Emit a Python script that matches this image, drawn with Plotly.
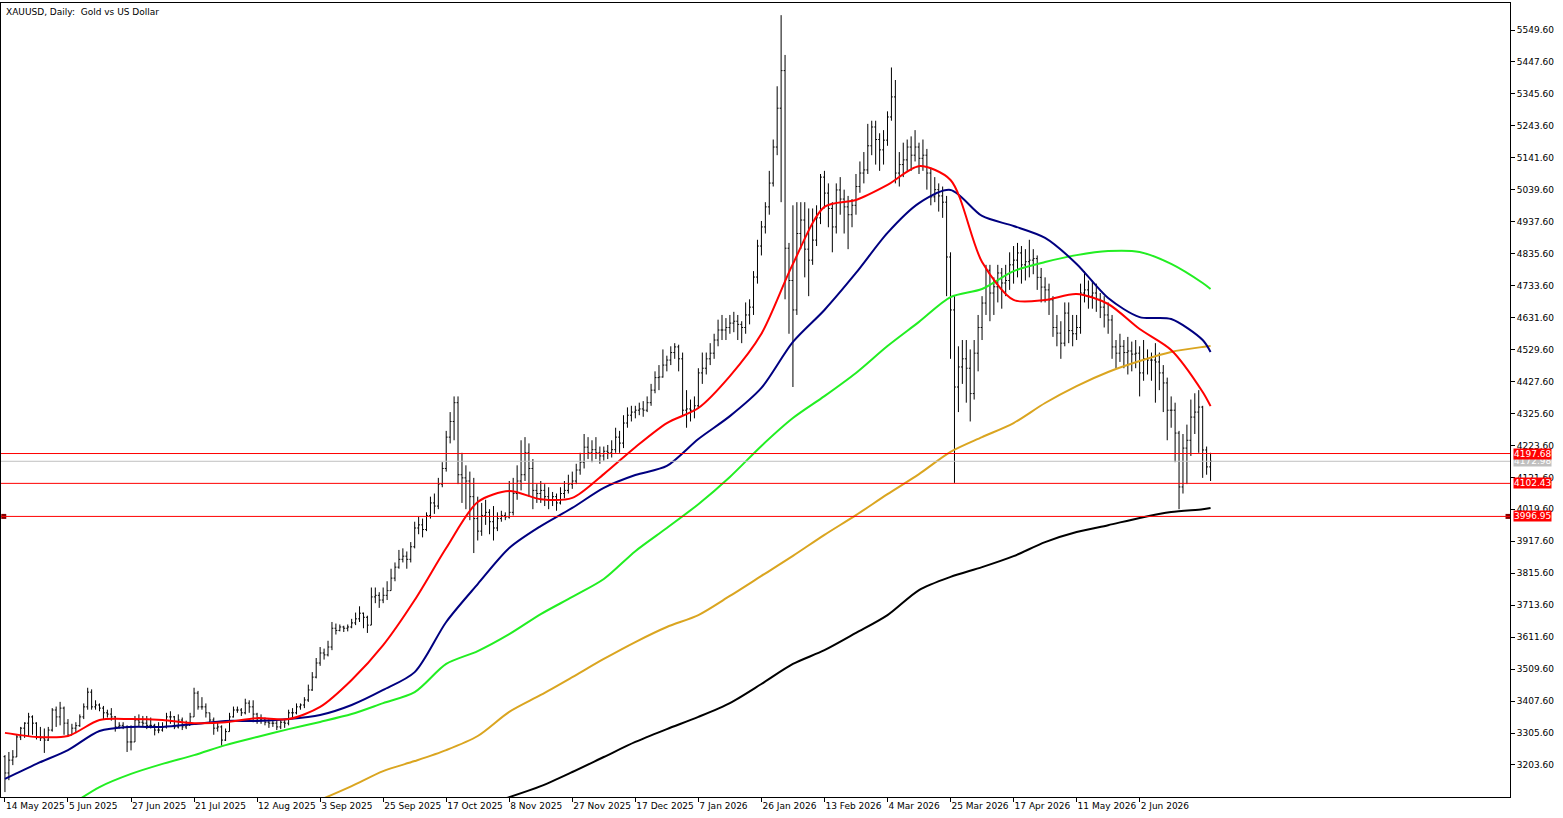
import numpy as np
import pandas as pd
import plotly.graph_objects as go

# daily closes, 14 May 2025 .. late Jun 2026
closes = [
    3178, 3219, 3229, 3293, 3321, 3337, 3357, 3337, 3293, 3290, 3283, 3315, 3379, 3357, 3385, 3337,
    3299, 3321, 3329, 3357, 3389, 3436, 3389, 3395, 3385, 3370, 3366, 3357, 3325, 3330, 3325, 3277,
    3277, 3347, 3340, 3337, 3330, 3330, 3315, 3315, 3325, 3357, 3357, 3325, 3347, 3325, 3330, 3357,
    3433, 3389, 3389, 3370, 3347, 3321, 3325, 3283, 3310, 3357, 3379, 3379, 3370, 3401, 3389, 3366,
    3347, 3347, 3340, 3337, 3337, 3325, 3340, 3337, 3370, 3370, 3389, 3395, 3411, 3443, 3484, 3529,
    3561, 3555, 3580, 3640, 3633, 3644, 3640, 3644, 3657, 3670, 3688, 3675, 3650, 3740, 3745, 3730,
    3745, 3760, 3800, 3835, 3860, 3870, 3860, 3900, 3960, 3970, 3955, 4000, 4040, 4030, 4100, 4150,
    4250, 4300, 4360, 4130, 4120, 4110, 4060, 3990, 3950, 4000, 4010, 3980, 3960, 3990, 4000, 3995,
    4010, 4070, 4110, 4130, 4200, 4150, 4080, 4070, 4080, 4060, 4050, 4060, 4040, 4070, 4080, 4100,
    4110, 4145, 4170, 4218, 4200, 4210, 4200, 4190, 4205, 4200, 4210, 4250, 4231, 4295, 4320, 4330,
    4336, 4340, 4336, 4360, 4400, 4440, 4442, 4480, 4496, 4520, 4538, 4500, 4336, 4340, 4336, 4350,
    4455, 4470, 4500, 4518, 4560, 4592, 4592, 4600, 4614, 4620, 4610, 4600, 4640, 4665, 4761, 4860,
    4921, 4985, 5061, 5176, 5300, 5420, 4853, 4750, 4656, 4900, 4943, 4850, 4815, 4879, 4950, 5080,
    5029, 4980, 4921, 5039, 5010, 4985, 4960, 4990, 5050, 5093, 5103, 5180, 5240, 5200, 5167, 5198,
    5272, 5336, 5093, 5120, 5135, 5176, 5150, 5176, 5140, 5150, 5093, 5017, 5040, 5020, 5000, 4825,
    4656, 4410, 4474, 4500, 4470, 4389, 4518, 4600, 4678, 4783, 4710, 4730, 4774, 4742, 4750, 4800,
    4815, 4838, 4800, 4810, 4815, 4820, 4760, 4729, 4720, 4688, 4600, 4582, 4550, 4646, 4590, 4580,
    4600, 4710, 4720, 4700, 4710, 4690, 4665, 4640, 4624, 4538, 4518, 4540, 4520, 4525, 4515, 4518,
    4455, 4500, 4496, 4496, 4490, 4455, 4423, 4336, 4336, 4263, 4091, 4215, 4240, 4314, 4330, 4346,
    4209, 4155, 4173,
]
highs = [
    3235, 3245, 3251, 3300, 3325, 3340, 3370, 3362, 3340, 3325, 3320, 3325, 3385, 3390, 3405, 3390,
    3350, 3335, 3340, 3365, 3400, 3450, 3445, 3410, 3400, 3392, 3380, 3385, 3360, 3340, 3340, 3330,
    3330, 3360, 3365, 3360, 3360, 3355, 3335, 3340, 3340, 3370, 3375, 3360, 3365, 3355, 3345, 3370,
    3450, 3440, 3420, 3400, 3370, 3355, 3340, 3330, 3320, 3370, 3390, 3390, 3385, 3415, 3410, 3410,
    3370, 3365, 3355, 3350, 3345, 3345, 3350, 3350, 3380, 3385, 3400, 3400, 3420, 3460, 3500, 3545,
    3580, 3575, 3600, 3660, 3655, 3652, 3648, 3652, 3670, 3690, 3710, 3690, 3680, 3770, 3770, 3755,
    3770, 3790, 3830, 3850, 3890, 3895, 3885, 3915, 3980, 3995, 3990, 4010, 4060, 4070, 4120, 4170,
    4270, 4330, 4380, 4380, 4200, 4160, 4140, 4120, 4060, 4040, 4050, 4020, 4030, 4010, 4015, 4010,
    4110, 4120, 4160, 4240, 4250, 4230, 4180, 4100, 4110, 4100, 4090, 4075, 4070, 4090, 4110, 4130,
    4140, 4165, 4200, 4260, 4250, 4240, 4250, 4220, 4220, 4225, 4240, 4280, 4270, 4320, 4345, 4350,
    4350, 4360, 4365, 4380, 4420, 4460, 4480, 4530, 4510, 4540, 4550, 4545, 4520, 4400, 4370, 4380,
    4470, 4520, 4520, 4550, 4580, 4625, 4640, 4630, 4640, 4650, 4640, 4620, 4680, 4690, 4780, 4880,
    4940, 5000, 5100, 5200, 5370, 5597, 5470, 4870, 4990, 5000, 5000, 5000, 4980, 4980, 4990, 5090,
    5100, 5060, 5000, 5060, 5080, 5040, 5020, 5010, 5090, 5130, 5160, 5250, 5260, 5260, 5220, 5230,
    5290, 5430, 5390, 5160, 5190, 5200, 5210, 5230, 5190, 5200, 5170, 5110, 5080, 5060, 5050, 5020,
    4840, 4700, 4540, 4560, 4560, 4530, 4560, 4640, 4700, 4800, 4800, 4760, 4800, 4790, 4800, 4840,
    4860, 4870, 4860, 4850, 4880, 4850, 4830, 4790, 4760, 4740, 4700, 4640, 4620, 4680, 4680, 4640,
    4640, 4740, 4780, 4750, 4750, 4740, 4710, 4700, 4680, 4640, 4560, 4580, 4560, 4570, 4555, 4560,
    4540, 4560, 4530, 4520, 4550, 4520, 4480, 4440, 4380, 4360, 4270, 4260, 4290, 4370, 4390, 4400,
    4350, 4220, 4200,
]
lows = [
    3117, 3155, 3203, 3229, 3283, 3290, 3295, 3300, 3285, 3280, 3242, 3280, 3310, 3325, 3330, 3300,
    3295, 3300, 3305, 3325, 3350, 3380, 3380, 3380, 3375, 3350, 3355, 3345, 3310, 3320, 3318, 3245,
    3250, 3280, 3325, 3325, 3318, 3320, 3298, 3305, 3310, 3320, 3335, 3318, 3320, 3315, 3318, 3330,
    3360, 3380, 3380, 3355, 3335, 3300, 3310, 3265, 3280, 3310, 3355, 3370, 3360, 3365, 3370, 3340,
    3335, 3335, 3330, 3322, 3325, 3315, 3318, 3322, 3330, 3355, 3365, 3380, 3385, 3405, 3440, 3480,
    3520, 3540, 3550, 3570, 3620, 3630, 3628, 3630, 3640, 3650, 3660, 3640, 3625, 3650, 3720, 3705,
    3720, 3730, 3760, 3790, 3830, 3850, 3830, 3850, 3895, 3940, 3930, 3950, 3990, 4005, 4020, 4090,
    4140, 4230, 4240, 4100, 4040, 4020, 3985, 3880, 3920, 3935, 3970, 3940, 3920, 3950, 3980, 3985,
    3990, 4000, 4050, 4080, 4110, 4060, 4020, 4040, 4040, 4030, 4020, 4030, 4015, 4035, 4055, 4070,
    4085, 4100, 4130, 4150, 4180, 4170, 4180, 4165, 4175, 4180, 4185, 4200, 4200, 4215, 4280, 4300,
    4310, 4320, 4315, 4330, 4350, 4390, 4400, 4440, 4460, 4480, 4500, 4460, 4320, 4280, 4300, 4310,
    4340, 4420, 4450, 4480, 4500, 4540, 4560, 4560, 4580, 4585, 4560, 4550, 4580, 4610, 4640, 4740,
    4830, 4900, 4960, 5050, 5150, 5000, 4690, 4580, 4410, 4640, 4850, 4760, 4700, 4800, 4860, 4930,
    4980, 4920, 4840, 4900, 4960, 4900, 4850, 4920, 4960, 5030, 5060, 5090, 5150, 5120, 5100, 5120,
    5180, 5260, 5060, 5050, 5080, 5100, 5100, 5130, 5090, 5100, 5040, 4990, 5000, 4970, 4950, 4700,
    4500, 4104, 4330, 4420, 4360, 4300, 4370, 4460, 4560, 4640, 4620, 4640, 4680, 4660, 4700, 4720,
    4740, 4760, 4740, 4750, 4760, 4770, 4720, 4680, 4680, 4640, 4570, 4540, 4500, 4540, 4550, 4540,
    4560, 4580, 4680, 4660, 4660, 4650, 4630, 4600, 4580, 4500, 4470, 4490, 4470, 4450, 4460, 4470,
    4380, 4430, 4450, 4430, 4360, 4400, 4330, 4240, 4280, 4170, 4020, 4070, 4100, 4190, 4260, 4200,
    4120, 4130, 4110,
]
first_open = 3230

# moving averages, sampled every 8 bars (last point = last bar)
ma_fast = [3306, 3293, 3296, 3347, 3350, 3347, 3337, 3340, 3353, 3350, 3389, 3475, 3586, 3730,
           3896, 4043, 4078, 4052, 4056, 4132, 4218, 4295, 4343, 4445, 4580, 4803, 4985, 5007,
           5055, 5115, 5071, 4809, 4688, 4688, 4707, 4675, 4595, 4528, 4394, 4349]
ma_mid = [3159, 3207, 3251, 3312, 3325, 3325, 3334, 3344, 3344, 3350, 3363, 3395, 3443, 3500,
          3660, 3781, 3896, 3966, 4024, 4088, 4129, 4158, 4244, 4317, 4407, 4554, 4656, 4774,
          4902, 4997, 5039, 4956, 4924, 4886, 4803, 4694, 4633, 4627, 4560, 4522]
ma_slow = [None, None, 3070, 3133, 3175, 3207, 3235, 3267, 3293, 3318, 3341, 3366, 3401, 3436,
           3526, 3567, 3621, 3685, 3740, 3797, 3886, 3960, 4036, 4123, 4222, 4311, 4381, 4455,
           4541, 4618, 4697, 4723, 4780, 4809, 4831, 4844, 4841, 4803, 4742, 4723]
ma_long = [None] * 10 + [3092, 3136, 3184, 3216, 3251, 3296, 3373, 3427, 3484, 3542, 3596, 3644,
                         3682, 3743, 3807, 3871, 3938, 4001, 4068, 4132, 4203, 4250, 4295, 4359,
                         4413, 4458, 4493, 4522, 4538, 4541]
ma_base = [None] * 15 + [3070, 3101, 3136, 3181, 3229, 3277, 3318, 3357, 3401, 3462, 3526, 3570,
                         3625, 3682, 3762, 3804, 3835, 3870, 3915, 3947, 3969, 3992, 4011, 4020,
                         4024]

date_labels = ["14 May 2025", "5 Jun 2025", "27 Jun 2025", "21 Jul 2025", "12 Aug 2025",
               "3 Sep 2025", "25 Sep 2025", "17 Oct 2025", "8 Nov 2025", "27 Nov 2025",
               "17 Dec 2025", "7 Jan 2026", "26 Jan 2026", "13 Feb 2026", "4 Mar 2026",
               "25 Mar 2026", "17 Apr 2026", "11 May 2026", "2 Jun 2026"]
price_ticks = [3203.60 + 102 * k for k in range(24)]

levels_red = [4197.68, 4102.43, 3996.95]
level_bid = 4172.98

df = pd.DataFrame({"close": closes, "high": highs, "low": lows})
df["open"] = df["close"].shift(1).fillna(first_open)
df["high"] = np.maximum(df["high"], df[["open", "close"]].max(axis=1))
df["low"] = np.minimum(df["low"], df[["open", "close"]].min(axis=1))
x = np.arange(len(df))
ma_x = list(range(0, len(df) - 2, 8)) + [len(df) - 1]

fig = go.Figure()
fig.add_trace(go.Ohlc(
    x=x, open=df["open"], high=df["high"], low=df["low"], close=df["close"],
    increasing_line_color="black", decreasing_line_color="black",
    line_width=1, tickwidth=0.35, showlegend=False,
))
for vals, color in ((ma_base, "black"), (ma_long, "#DAA520"), (ma_slow, "#22EE22"),
                    (ma_mid, "#000080"), (ma_fast, "#FF0000")):
    fig.add_trace(go.Scatter(x=ma_x, y=vals, mode="lines", showlegend=False,
                             line={"color": color, "width": 2, "shape": "spline", "smoothing": 0.8}))

for lv in levels_red:
    fig.add_hline(y=lv, line_color="red", line_width=1)
fig.add_hline(y=level_bid, line_color="#C0C0C0", line_width=1)

for lv, bg in ((level_bid, "#C0C0C0"), (levels_red[0], "red"),
               (levels_red[1], "red"), (levels_red[2], "red")):
    fig.add_annotation(x=1.0, xref="paper", y=lv, yref="y", xanchor="left", xshift=3,
                       text=f"{lv:.2f}", showarrow=False, bgcolor=bg, borderpad=0,
                       font={"color": "white", "size": 9, "family": "DejaVu Sans"})
fig.add_trace(go.Scatter(x=[-0.3, 381.5], y=[levels_red[2]] * 2, mode="markers",
                         marker={"symbol": "square", "size": 5, "color": "#800000"},
                         showlegend=False, cliponaxis=False))

fig.add_annotation(x=0.002, xref="paper", y=0.998, yref="paper", xanchor="left", yanchor="top",
                   text="XAUUSD, Daily:  Gold vs US Dollar", showarrow=False,
                   font={"size": 9, "family": "DejaVu Sans", "color": "black"})

fig.update_layout(
    width=1563, height=818,
    margin={"l": 1, "r": 53, "t": 3, "b": 21, "autoexpand": False},
    paper_bgcolor="white", plot_bgcolor="white",
    font={"family": "DejaVu Sans", "size": 9, "color": "black"},
    hovermode=False,
)
fig.update_xaxes(
    range=[-1.0, 382], rangeslider_visible=False, showgrid=False, zeroline=False,
    tickvals=list(range(0, 16 * len(date_labels), 16)), ticktext=date_labels,
    tickangle=0, automargin=False,
    ticks="outside", ticklen=4, tickcolor="black", ticklabelposition="outside right",
    showline=True, linecolor="black", linewidth=1, mirror=True,
)
fig.update_yaxes(
    range=[3101.3, 5635.8], side="right", showgrid=False, zeroline=False, automargin=False,
    tickvals=price_ticks, ticktext=[f"{v:.2f}" for v in price_ticks],
    ticks="outside", ticklen=4, tickcolor="black",
    showline=True, linecolor="black", linewidth=1, mirror=True,
)

fig.write_html("out.html", config={"displayModeBar": False},
               post_script="document.body.style.margin='0';")
